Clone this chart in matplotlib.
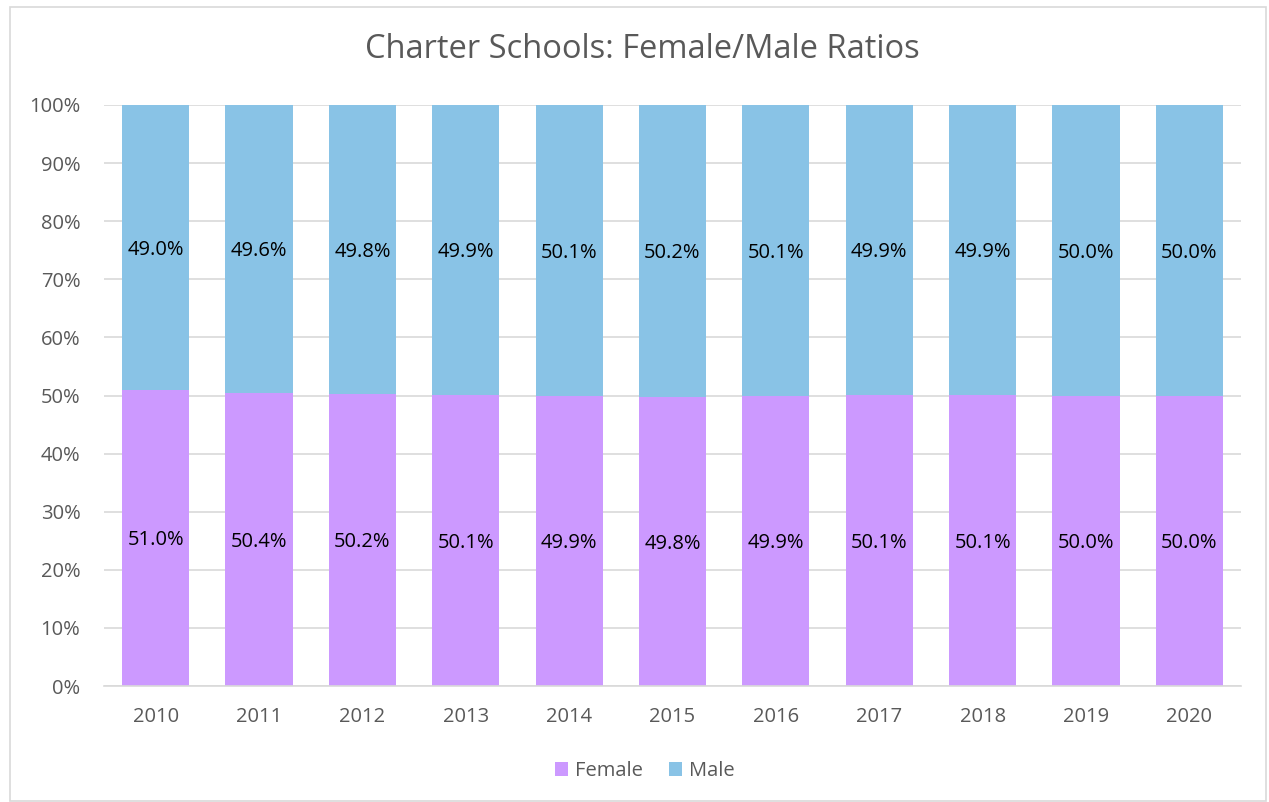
import numpy as np
import matplotlib.pyplot as plt
from matplotlib.patches import Rectangle
from matplotlib.ticker import PercentFormatter

years = ["2010", "2011", "2012", "2013", "2014", "2015", "2016", "2017", "2018", "2019", "2020"]
female = [51.0, 50.4, 50.2, 50.1, 49.9, 49.8, 49.9, 50.1, 50.1, 50.0, 50.0]
male = [49.0, 49.6, 49.8, 49.9, 50.1, 50.2, 50.1, 49.9, 49.9, 50.0, 50.0]

FEMALE_COLOR = "#CC99FF"
MALE_COLOR = "#89C3E6"
TEXT_GRAY = "#595959"

plt.rcParams["font.family"] = ["Open Sans", "DejaVu Sans"]

fig = plt.figure(figsize=(12.69, 8.02), dpi=100)
ax = fig.add_axes([104 / 1269, 1 - 686 / 802, (1241 - 104) / 1269, (686 - 105) / 802])

# outer chart border
fig.patches.append(Rectangle((10 / 1269, 1 / 802), 1256 / 1269, 794 / 802,
                             transform=fig.transFigure, fill=False,
                             edgecolor="#D9D9D9", linewidth=1.2))

x = np.arange(len(years))
width = 0.65
bf = ax.bar(x, female, width, color=FEMALE_COLOR, label="Female", zorder=2)
bm = ax.bar(x, male, width, bottom=female, color=MALE_COLOR, label="Male", zorder=2)

for i in range(len(years)):
    ax.text(x[i], female[i] / 2 - 0.4, f"{female[i]:.1f}%", ha="center", va="center",
            fontsize=14.5, color="black", zorder=3)
    ax.text(x[i], female[i] + male[i] / 2 - 0.4, f"{male[i]:.1f}%", ha="center", va="center",
            fontsize=14.5, color="black", zorder=3)

ax.set_xlim(-0.5, len(years) - 0.5)
ax.set_ylim(0, 100)
ax.set_yticks(np.arange(0, 101, 10))
ax.yaxis.set_major_formatter(PercentFormatter(decimals=0))
ax.set_xticks(x)
ax.set_xticklabels(years)
ax.tick_params(axis="both", length=0, labelsize=14.5, colors=TEXT_GRAY)
ax.tick_params(axis="y", pad=17)
ax.tick_params(axis="x", pad=15)
ax.grid(axis="y", color="#D9D9D9", linewidth=1.2, zorder=0)
for s in ["top", "right", "left"]:
    ax.spines[s].set_visible(False)
ax.spines["bottom"].set_color("#D9D9D9")
ax.spines["bottom"].set_linewidth(1.2)

fig.text(0.506, 1 - 50 / 802, "Charter Schools: Female/Male Ratios", ha="center", va="center",
         fontsize=23.5, color=TEXT_GRAY)

fig.legend(handles=[bf, bm], loc="center", bbox_to_anchor=(0.508, 1 - 771 / 802), ncol=2,
           frameon=False, fontsize=14.5, labelcolor=TEXT_GRAY, handlelength=0.65,
           handleheight=0.65, handletextpad=0.35, columnspacing=1.3)

fig.savefig("out.png", dpi=100)
